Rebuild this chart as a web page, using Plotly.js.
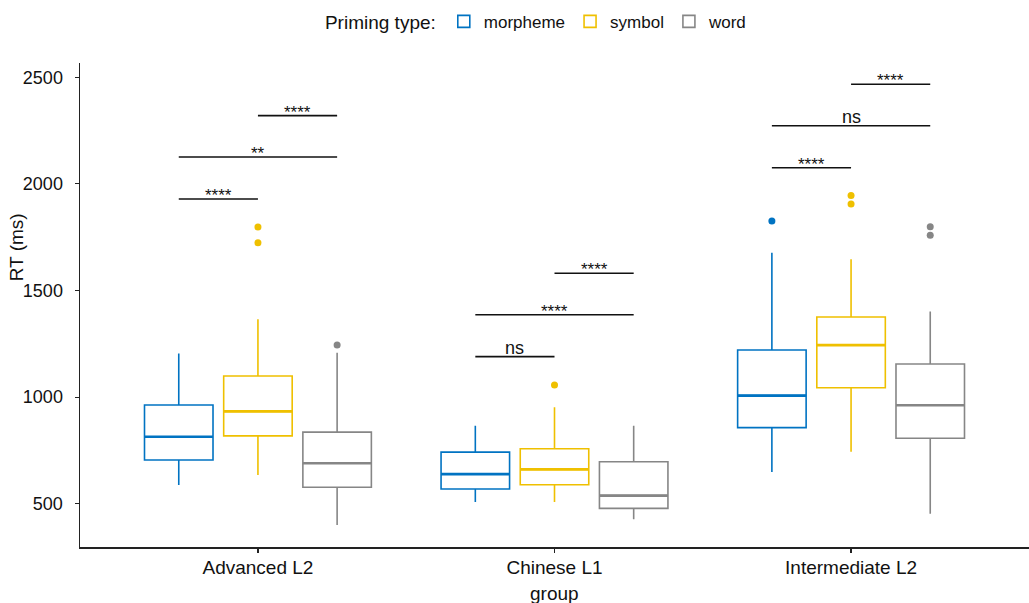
<!DOCTYPE html>
<html>
<head>
<meta charset="utf-8">
<script src="https://cdn.plot.ly/plotly-3.0.1.min.js"></script>
<style>html,body{margin:0;padding:0;background:#fff;}#chart{width:1029px;height:603px;}</style>
</head>
<body>
<div id="chart"></div>
<script>
// ---- data ----
const groups = ["Advanced L2", "Chinese L1", "Intermediate L2"];
const seriesNames = ["morpheme", "symbol", "word"];
const seriesColors = ["#0073C2", "#EFC000", "#868686"];

// box statistics per series, one value per group
const lowerFence = {
  morpheme: [588, 508, 649],
  symbol:   [635, 508, 744],
  word:     [400, 427, 453]
};
const q1Values = {
  morpheme: [705, 569, 857],
  symbol:   [818, 589, 1044],
  word:     [577, 478, 807]
};
const medianValues = {
  morpheme: [814, 639, 1007],
  symbol:   [933, 661, 1244],
  word:     [690, 538, 962]
};
const q3Values = {
  morpheme: [963, 742, 1221],
  symbol:   [1099, 758, 1376],
  word:     [836, 697, 1155]
};
const upperFence = {
  morpheme: [1205, 866, 1677],
  symbol:   [1365, 952, 1646],
  word:     [1208, 866, 1401]
};

// outliers: group index + value
const outlierGroup = {
  morpheme: [2],
  symbol:   [0, 0, 1, 2, 2],
  word:     [0, 2, 2]
};
const outlierValue = {
  morpheme: [1826],
  symbol:   [1798, 1724, 1057, 1945, 1906],
  word:     [1244, 1799, 1759]
};

// significance brackets
const bracketGroup = [0, 0, 0, 1, 1, 1, 2, 2, 2];
const bracketFrom  = [0, 0, 1, 0, 0, 1, 0, 0, 1];
const bracketTo    = [1, 2, 2, 1, 2, 2, 1, 2, 2];
const bracketY     = [1929, 2126, 2320, 1190, 1386, 1581, 2076, 2273, 2467];
const bracketLabel = ["****", "**", "****", "ns", "****", "****", "****", "ns", "****"];

// ---- layout helpers ----
const dodge = 0.267;
const boxWidth = 0.231;
const offsets = [-dodge, 0, dodge];
const groupPos = groups.map((g, i) => i + 1);

const traces = [];
seriesNames.forEach((s, k) => {
  traces.push({
    type: "box",
    name: s,
    x: groupPos.map(p => p + offsets[k]),
    q1: q1Values[s],
    median: medianValues[s],
    q3: q3Values[s],
    lowerfence: lowerFence[s],
    upperfence: upperFence[s],
    width: boxWidth,
    boxpoints: false,
    whiskerwidth: 0,
    fillcolor: "rgba(255,255,255,0)",
    line: {color: seriesColors[k], width: 1.6},
    hoverinfo: "skip",
    showlegend: true
  });
});
// thicker median bars (ggplot style)
seriesNames.forEach((s, k) => {
  const xs = [], ys = [];
  groupPos.forEach((p, g) => {
    const c = p + offsets[k];
    xs.push(c - boxWidth / 2, c + boxWidth / 2, null);
    ys.push(medianValues[s][g], medianValues[s][g], null);
  });
  traces.push({
    type: "scatter", mode: "lines", x: xs, y: ys,
    line: {color: seriesColors[k], width: 2.6},
    showlegend: false, hoverinfo: "skip"
  });
});
seriesNames.forEach((s, k) => {
  traces.push({
    type: "scatter",
    mode: "markers",
    x: outlierGroup[s].map(g => groupPos[g] + offsets[k]),
    y: outlierValue[s],
    marker: {color: seriesColors[k], size: 7},
    showlegend: false,
    hoverinfo: "skip"
  });
});

const shapes = [];
const annotations = [];
bracketY.forEach((y, i) => {
  const x0 = groupPos[bracketGroup[i]] + offsets[bracketFrom[i]];
  const x1 = groupPos[bracketGroup[i]] + offsets[bracketTo[i]];
  shapes.push({type: "line", xref: "x", yref: "y", x0: x0, x1: x1, y0: y, y1: y,
    line: {color: "#111", width: 1.6}});
  const isNs = bracketLabel[i] === "ns";
  annotations.push({
    xref: "x", yref: "y", x: (x0 + x1) / 2, y: y,
    text: bracketLabel[i], showarrow: false,
    yanchor: "bottom",
    yshift: isNs ? -3 : -8,
    font: {family: "Liberation Sans, Arial, sans-serif", size: isNs ? 18 : 17, color: "#111"}
  });
});
annotations.push({
  xref: "paper", yref: "paper", x: -0.066, y: 0.62,
  text: "RT (ms)", textangle: -90, showarrow: false,
  xanchor: "center", yanchor: "middle",
  font: {family: "Liberation Sans, Arial, sans-serif", size: 19, color: "#111"}
});
annotations.push({
  xref: "paper", yref: "paper", x: 0.5, y: -0.096,
  text: "group", showarrow: false,
  xanchor: "center", yanchor: "middle",
  font: {family: "Liberation Sans, Arial, sans-serif", size: 19, color: "#111"}
});

const layout = {
  width: 1029, height: 603,
  margin: {l: 80, r: 0, t: 63, b: 56},
  paper_bgcolor: "#fff", plot_bgcolor: "#fff",
  font: {family: "Liberation Sans, Arial, sans-serif", color: "#111"},
  showlegend: true,
  legend: {
    orientation: "h", x: 0.482, xanchor: "center", y: 1.085, yanchor: "middle",
    title: {text: "Priming type:", side: "left", font: {size: 19, color: "#111"}},
    font: {size: 17, color: "#111"},
    bgcolor: "rgba(0,0,0,0)"
  },
  xaxis: {
    range: [0.4, 3.6],
    tickvals: groupPos, ticktext: groups,
    showgrid: false, zeroline: false,
    showline: true, linecolor: "#222", linewidth: 1.5,
    ticks: "outside", ticklen: 4, tickwidth: 1.2, tickcolor: "#222",
    tickfont: {size: 19, color: "#111"},
    ticklabelstandoff: -1
  },
  yaxis: {
    range: [297, 2567],
    tickvals: [500, 1000, 1500, 2000, 2500],
    showgrid: false, zeroline: false,
    showline: true, linecolor: "#222", linewidth: 1.5,
    ticks: "outside", ticklen: 4, tickwidth: 1.2, tickcolor: "#222",
    tickfont: {size: 18, color: "#111"},
    ticklabelstandoff: 8
  },
  shapes: shapes,
  annotations: annotations
};

Plotly.newPlot("chart", traces, layout, {displayModeBar: false, staticPlot: true});
</script>
</body>
</html>
